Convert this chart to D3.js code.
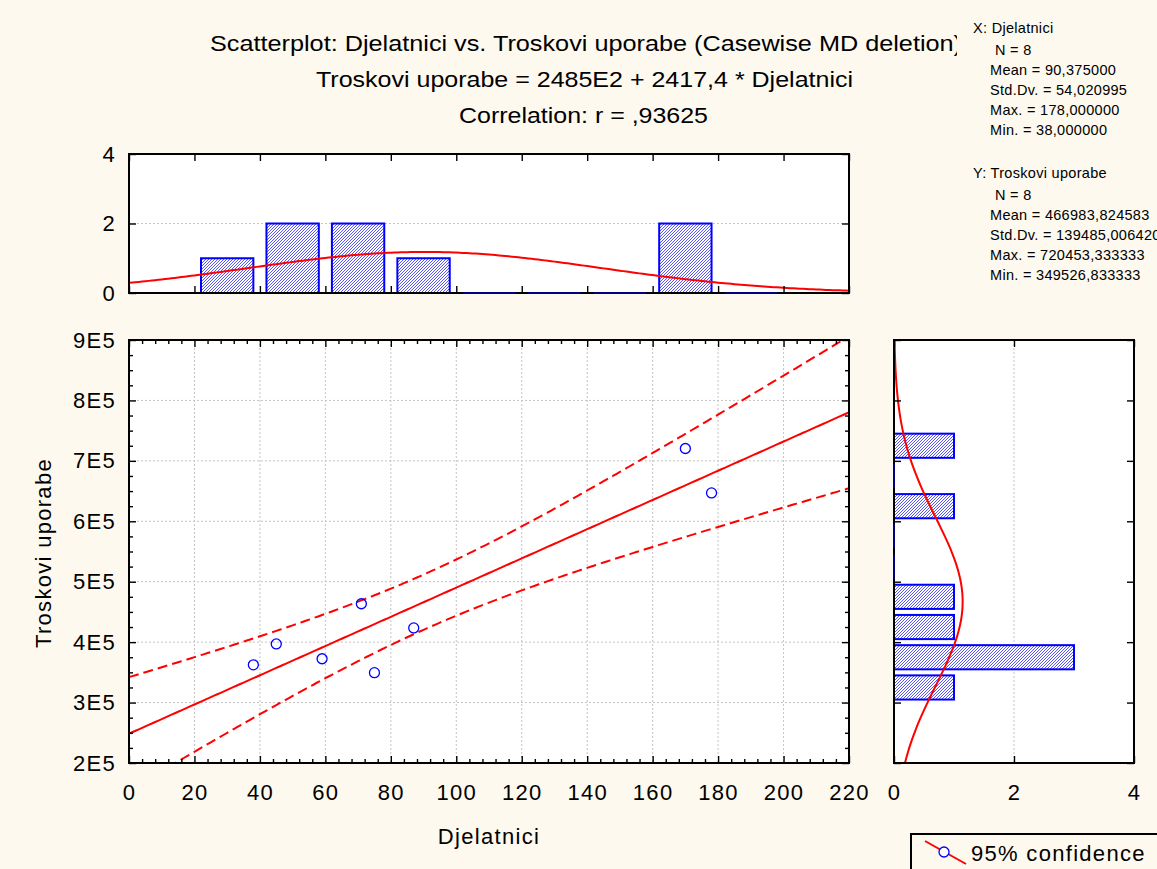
<!DOCTYPE html>
<html><head><meta charset="utf-8">
<script src="https://cdn.jsdelivr.net/npm/d3@7"></script>
<style>
body{margin:0;background:#fdf9ee;overflow:hidden;}
text{font-family:"Liberation Sans",Arial,sans-serif;fill:#000;}
</style></head><body>
<svg id="chart" width="1157" height="869"></svg>
<script>
// ---- data ----
const djelatnici = [38, 45, 59, 71, 75, 87, 170, 178];
const troskovi = [362500, 397000, 372500, 463500, 349527, 423500, 720453, 647000];
const xBinStarts = [20, 40, 60, 80, 100, 120, 140, 160, 180];
const xBinCounts = [1, 2, 2, 1, 0, 0, 0, 2, 0];
const yBinStarts = [300000, 350000, 400000, 450000, 500000, 550000, 600000, 650000, 700000];
const yBinCounts = [1, 3, 1, 1, 0, 0, 1, 0, 1];
const xTickValues = [0, 20, 40, 60, 80, 100, 120, 140, 160, 180, 200, 220];
const yTickValues = [200000, 300000, 400000, 500000, 600000, 700000, 800000, 900000];
const yTickLabels = ["2E5", "3E5", "4E5", "5E5", "6E5", "7E5", "8E5", "9E5"];
const countTicks = [0, 2, 4];
const regression = [248500, 2417.4]; // intercept, slope
const xMeanSd = [90.375, 54.020995];
const yMeanSd = [466983.824583, 139485.00642];
const titleLines = [
  "Scatterplot: Djelatnici vs. Troskovi uporabe (Casewise MD deletion)",
  "Troskovi uporabe = 2485E2 + 2417,4 * Djelatnici",
  "Correlation: r = ,93625"
];
const xStatLines = ["X:  Djelatnici", "N = 8", "Mean = 90,375000", "Std.Dv. = 54,020995", "Max. = 178,000000", "Min. = 38,000000"];
const yStatLines = ["Y:  Troskovi uporabe", "N = 8", "Mean = 466983,824583", "Std.Dv. = 139485,006420", "Max. = 720453,333333", "Min. = 349526,833333"];
const xTitle = "Djelatnici";
const yTitle = "Troskovi uporabe";
const legendLabel = "95% confidence";

// ---- layout ----
const BG = "#fdf9ee";
const svg = d3.select("#chart");
svg.append("rect").attr("width", 1157).attr("height", 869).attr("fill", BG);

const M = {l: 129, r: 849, t: 340, b: 763};
const TH = {t: 154, b: 293};
const RH = {l: 894, r: 1134};

const x = d3.scaleLinear([0, 220], [M.l, M.r]);
const y = d3.scaleLinear([200000, 900000], [M.b, M.t]);
const hy = d3.scaleLinear([0, 4], [TH.b, TH.t]);
const hx = d3.scaleLinear([0, 4], [RH.l, RH.r]);

const defs = svg.append("defs");
const pat = defs.append("pattern").attr("id", "hatch").attr("patternUnits", "userSpaceOnUse")
  .attr("width", 3).attr("height", 3);
pat.append("rect").attr("width", 3).attr("height", 3).attr("fill", "#fff");
pat.append("path").attr("d", "M-1,1 l2,-2 M0,3 l3,-3 M2,4 l2,-2").attr("stroke", "#2a2aff").attr("stroke-width", 0.8);
defs.append("clipPath").attr("id", "clipMain").append("rect")
  .attr("x", M.l).attr("y", M.t).attr("width", M.r - M.l).attr("height", M.b - M.t);
defs.append("clipPath").attr("id", "clipTop").append("rect")
  .attr("x", M.l).attr("y", TH.t).attr("width", M.r - M.l).attr("height", TH.b - TH.t);
defs.append("clipPath").attr("id", "clipRight").append("rect")
  .attr("x", RH.l).attr("y", M.t).attr("width", RH.r - RH.l).attr("height", M.b - M.t);

function panel(x0, y0, x1, y1) {
  svg.append("rect").attr("x", x0).attr("y", y0).attr("width", x1 - x0).attr("height", y1 - y0)
    .attr("fill", "#fff");
}
panel(M.l, M.t, M.r, M.b);
panel(M.l, TH.t, M.r, TH.b);
panel(RH.l, M.t, RH.r, M.b);

const gridStyle = g => g.attr("stroke", "#c4c4c4").attr("stroke-width", 1).attr("stroke-dasharray", "2,2");
const grid = svg.append("g").call(gridStyle);
grid.selectAll(".gx").data(xTickValues.slice(1, -1)).join("line")
  .attr("x1", d => x(d)).attr("x2", d => x(d)).attr("y1", M.t).attr("y2", M.b);
grid.selectAll(".gy").data(yTickValues.slice(1, -1)).join("line").attr("class", "gy")
  .attr("y1", d => y(d)).attr("y2", d => y(d)).attr("x1", M.l).attr("x2", M.r);
svg.append("line").call(gridStyle).attr("x1", M.l).attr("x2", M.r).attr("y1", hy(2)).attr("y2", hy(2));
svg.append("line").call(gridStyle).attr("y1", M.t).attr("y2", M.b).attr("x1", hx(2)).attr("x2", hx(2));

// ---- statistics ----
const n = djelatnici.length;
const mx = d3.mean(djelatnici);
const sxx = d3.sum(djelatnici, v => (v - mx) ** 2);
const fit = v => regression[0] + regression[1] * v;
const ssRes = d3.sum(djelatnici, (v, i) => (troskovi[i] - fit(v)) ** 2);
const s = Math.sqrt(ssRes / (n - 2));
const tCrit = 2.446912;
const band = v => tCrit * s * Math.sqrt(1 / n + (v - mx) ** 2 / sxx);
const pdf = (v, m, sd) => Math.exp(-0.5 * ((v - m) / sd) ** 2) / (sd * Math.sqrt(2 * Math.PI));

// ---- top histogram ----
const topG = svg.append("g");
topG.selectAll("rect").data(xBinStarts.filter((d, i) => xBinCounts[i] > 0)).join("rect")
  .attr("x", d => x(d + 2)).attr("width", d => x(d + 18) - x(d + 2))
  .attr("y", d => hy(xBinCounts[xBinStarts.indexOf(d)])).attr("height", d => hy(0) - hy(xBinCounts[xBinStarts.indexOf(d)]))
  .attr("fill", "url(#hatch)").attr("stroke", "#0000ff").attr("stroke-width", 2);
const xs = d3.range(0, 220.5, 1);
svg.append("path").attr("clip-path", "url(#clipTop)")
  .attr("d", d3.line().x(v => x(v)).y(v => hy(n * 20 * pdf(v, xMeanSd[0], xMeanSd[1])))(xs))
  .attr("fill", "none").attr("stroke", "#ff0000").attr("stroke-width", 2);

// ---- right histogram ----
const rG = svg.append("g");
rG.selectAll("rect").data(yBinStarts.filter((d, i) => yBinCounts[i] > 0)).join("rect")
  .attr("y", d => y(d + 45000)).attr("height", d => y(d + 5000) - y(d + 45000))
  .attr("x", hx(0)).attr("width", d => hx(yBinCounts[yBinStarts.indexOf(d)]) - hx(0))
  .attr("fill", "url(#hatch)").attr("stroke", "#0000ff").attr("stroke-width", 2);
const ys = d3.range(200000, 900001, 2500);
svg.append("path").attr("clip-path", "url(#clipRight)")
  .attr("d", d3.line().y(v => y(v)).x(v => hx(n * 50000 * pdf(v, yMeanSd[0], yMeanSd[1])))(ys))
  .attr("fill", "none").attr("stroke", "#ff0000").attr("stroke-width", 2);

// ---- main scatter ----
const mG = svg.append("g").attr("clip-path", "url(#clipMain)");
mG.append("path").attr("d", d3.line().x(v => x(v)).y(v => y(fit(v)))(xs))
  .attr("fill", "none").attr("stroke", "#ff0000").attr("stroke-width", 2);
[1, -1].forEach(sg => {
  mG.append("path").attr("d", d3.line().x(v => x(v)).y(v => y(fit(v) + sg * band(v)))(xs))
    .attr("fill", "none").attr("stroke", "#ff0000").attr("stroke-width", 2).attr("stroke-dasharray", "10,5");
});
svg.append("g").selectAll("circle").data(djelatnici).join("circle")
  .attr("cx", d => x(d)).attr("cy", (d, i) => y(troskovi[i])).attr("r", 5)
  .attr("fill", "none").attr("stroke", "#0000ff").attr("stroke-width", 1.3);

// ---- axes ----
const fontTick = g => {
  g.select(".domain").remove();
  g.selectAll(".tick line").attr("stroke", "#000").attr("stroke-width", 1.4);
  g.selectAll("text").attr("font-size", 22).attr("letter-spacing", 1.3)
    .attr("font-family", '"Liberation Sans",Arial,sans-serif').attr("fill", "#000");
};
const minorX = d3.range(0, 221, 4).filter(v => v % 20 !== 0);
const minorY = d3.range(200000, 900001, 25000).filter(v => v % 100000 !== 0);

svg.append("g").attr("transform", `translate(0,${M.b})`)
  .call(d3.axisBottom(x).tickValues(xTickValues).tickSize(-7).tickPadding(21).tickFormat(d3.format("d"))).call(fontTick);
svg.append("g").attr("transform", `translate(0,${M.b})`)
  .call(d3.axisBottom(x).tickValues(minorX).tickSize(-4).tickFormat("")).call(fontTick);
svg.append("g").attr("transform", `translate(0,${M.t})`)
  .call(d3.axisTop(x).tickValues(xTickValues).tickSize(-7).tickFormat("")).call(fontTick);
svg.append("g").attr("transform", `translate(0,${M.t})`)
  .call(d3.axisTop(x).tickValues(minorX).tickSize(-4).tickFormat("")).call(fontTick);
svg.append("g").attr("transform", `translate(${M.l},0)`)
  .call(d3.axisLeft(y).tickValues(yTickValues).tickSize(-7).tickPadding(13).tickFormat((d, i) => yTickLabels[i])).call(fontTick);
svg.append("g").attr("transform", `translate(${M.l},0)`)
  .call(d3.axisLeft(y).tickValues(minorY).tickSize(-4).tickFormat("")).call(fontTick);
svg.append("g").attr("transform", `translate(${M.r},0)`)
  .call(d3.axisRight(y).tickValues(yTickValues).tickSize(-7).tickFormat("")).call(fontTick);
svg.append("g").attr("transform", `translate(${M.r},0)`)
  .call(d3.axisRight(y).tickValues(minorY).tickSize(-4).tickFormat("")).call(fontTick);

svg.append("g").attr("transform", `translate(0,${TH.b})`)
  .call(d3.axisBottom(x).tickValues(xTickValues).tickSize(-7).tickFormat("")).call(fontTick);
svg.append("g").attr("transform", `translate(0,${TH.t})`)
  .call(d3.axisTop(x).tickValues(xTickValues).tickSize(-7).tickFormat("")).call(fontTick);
svg.append("g").attr("transform", `translate(${M.l},0)`)
  .call(d3.axisLeft(hy).tickValues(countTicks).tickSize(-7).tickPadding(13).tickFormat(d3.format("d"))).call(fontTick);
svg.append("g").attr("transform", `translate(${M.r},0)`)
  .call(d3.axisRight(hy).tickValues(countTicks).tickSize(-7).tickFormat("")).call(fontTick);

svg.append("g").attr("transform", `translate(0,${M.b})`)
  .call(d3.axisBottom(hx).tickValues(countTicks).tickSize(-7).tickPadding(21).tickFormat(d3.format("d"))).call(fontTick);
svg.append("g").attr("transform", `translate(0,${M.t})`)
  .call(d3.axisTop(hx).tickValues(countTicks).tickSize(-7).tickFormat("")).call(fontTick);
svg.append("g").attr("transform", `translate(${RH.l},0)`)
  .call(d3.axisLeft(y).tickValues(yTickValues).tickSize(-7).tickFormat("")).call(fontTick);
svg.append("g").attr("transform", `translate(${RH.r},0)`)
  .call(d3.axisRight(y).tickValues(yTickValues).tickSize(-7).tickFormat("")).call(fontTick);

// frames
function frame(x0, y0, x1, y1) {
  svg.append("rect").attr("x", x0).attr("y", y0).attr("width", x1 - x0).attr("height", y1 - y0)
    .attr("fill", "none").attr("stroke", "#000").attr("stroke-width", 2);
}
frame(M.l, M.t, M.r, M.b);
frame(M.l, TH.t, M.r, TH.b);
frame(RH.l, M.t, RH.r, M.b);

// empty bins drawn as flat bars over the frame baseline
svg.append("g").selectAll("line").data(xBinStarts.filter((d, i) => xBinCounts[i] === 0)).join("line")
  .attr("x1", d => x(d + 2)).attr("x2", d => x(d + 18)).attr("y1", hy(0)).attr("y2", hy(0))
  .attr("stroke", "#000080").attr("stroke-width", 2);
svg.append("g").selectAll("line").data(yBinStarts.filter((d, i) => yBinCounts[i] === 0)).join("line")
  .attr("y1", d => y(d + 5000)).attr("y2", d => y(d + 45000)).attr("x1", hx(0)).attr("x2", hx(0))
  .attr("stroke", "#000080").attr("stroke-width", 2);

// axis titles
svg.append("text").attr("x", (M.l + M.r) / 2).attr("y", 844).attr("text-anchor", "middle")
  .attr("font-size", 22).attr("letter-spacing", 1.3).text(xTitle);
svg.append("text").attr("transform", "translate(51,553) rotate(-90)").attr("text-anchor", "middle")
  .attr("font-size", 22).attr("letter-spacing", 1.3).text(yTitle);

// titles
const titleX = [210, 316, 459];
const titleW = [752, 537, 249];
const titleY = [51, 87, 123];
titleLines.forEach((t, i) => {
  svg.append("text").attr("x", titleX[i]).attr("y", titleY[i]).attr("font-size", 22)
    .attr("textLength", titleW[i]).attr("lengthAdjust", "spacingAndGlyphs").text(t);
});

// stats block
svg.append("rect").attr("x", 957).attr("y", 0).attr("width", 200).attr("height", 300).attr("fill", BG);
const statBlock = (lines, y0) => {
  lines.forEach((t, i) => {
    svg.append("text").attr("x", i === 0 ? 973 : (i === 1 ? 995 : 990))
      .attr("y", i === 0 ? y0 : y0 + 2 + i * 20).attr("font-size", 14.5).attr("letter-spacing", 0.3).text(t);
  });
};
statBlock(xStatLines, 33);
statBlock(yStatLines, 178);

// legend
const lg = svg.append("g");
lg.append("rect").attr("x", 911).attr("y", 834).attr("width", 270).attr("height", 50)
  .attr("fill", BG).attr("stroke", "#000").attr("stroke-width", 2);
lg.append("line").attr("x1", 925).attr("y1", 841).attr("x2", 966).attr("y2", 864)
  .attr("stroke", "#ff0000").attr("stroke-width", 2);
lg.append("circle").attr("cx", 944).attr("cy", 852).attr("r", 5)
  .attr("fill", "#fff").attr("stroke", "#0000ff").attr("stroke-width", 1.3);
lg.append("text").attr("x", 971).attr("y", 861).attr("font-size", 22).attr("letter-spacing", 1.3).text(legendLabel);
</script>
</body></html>
